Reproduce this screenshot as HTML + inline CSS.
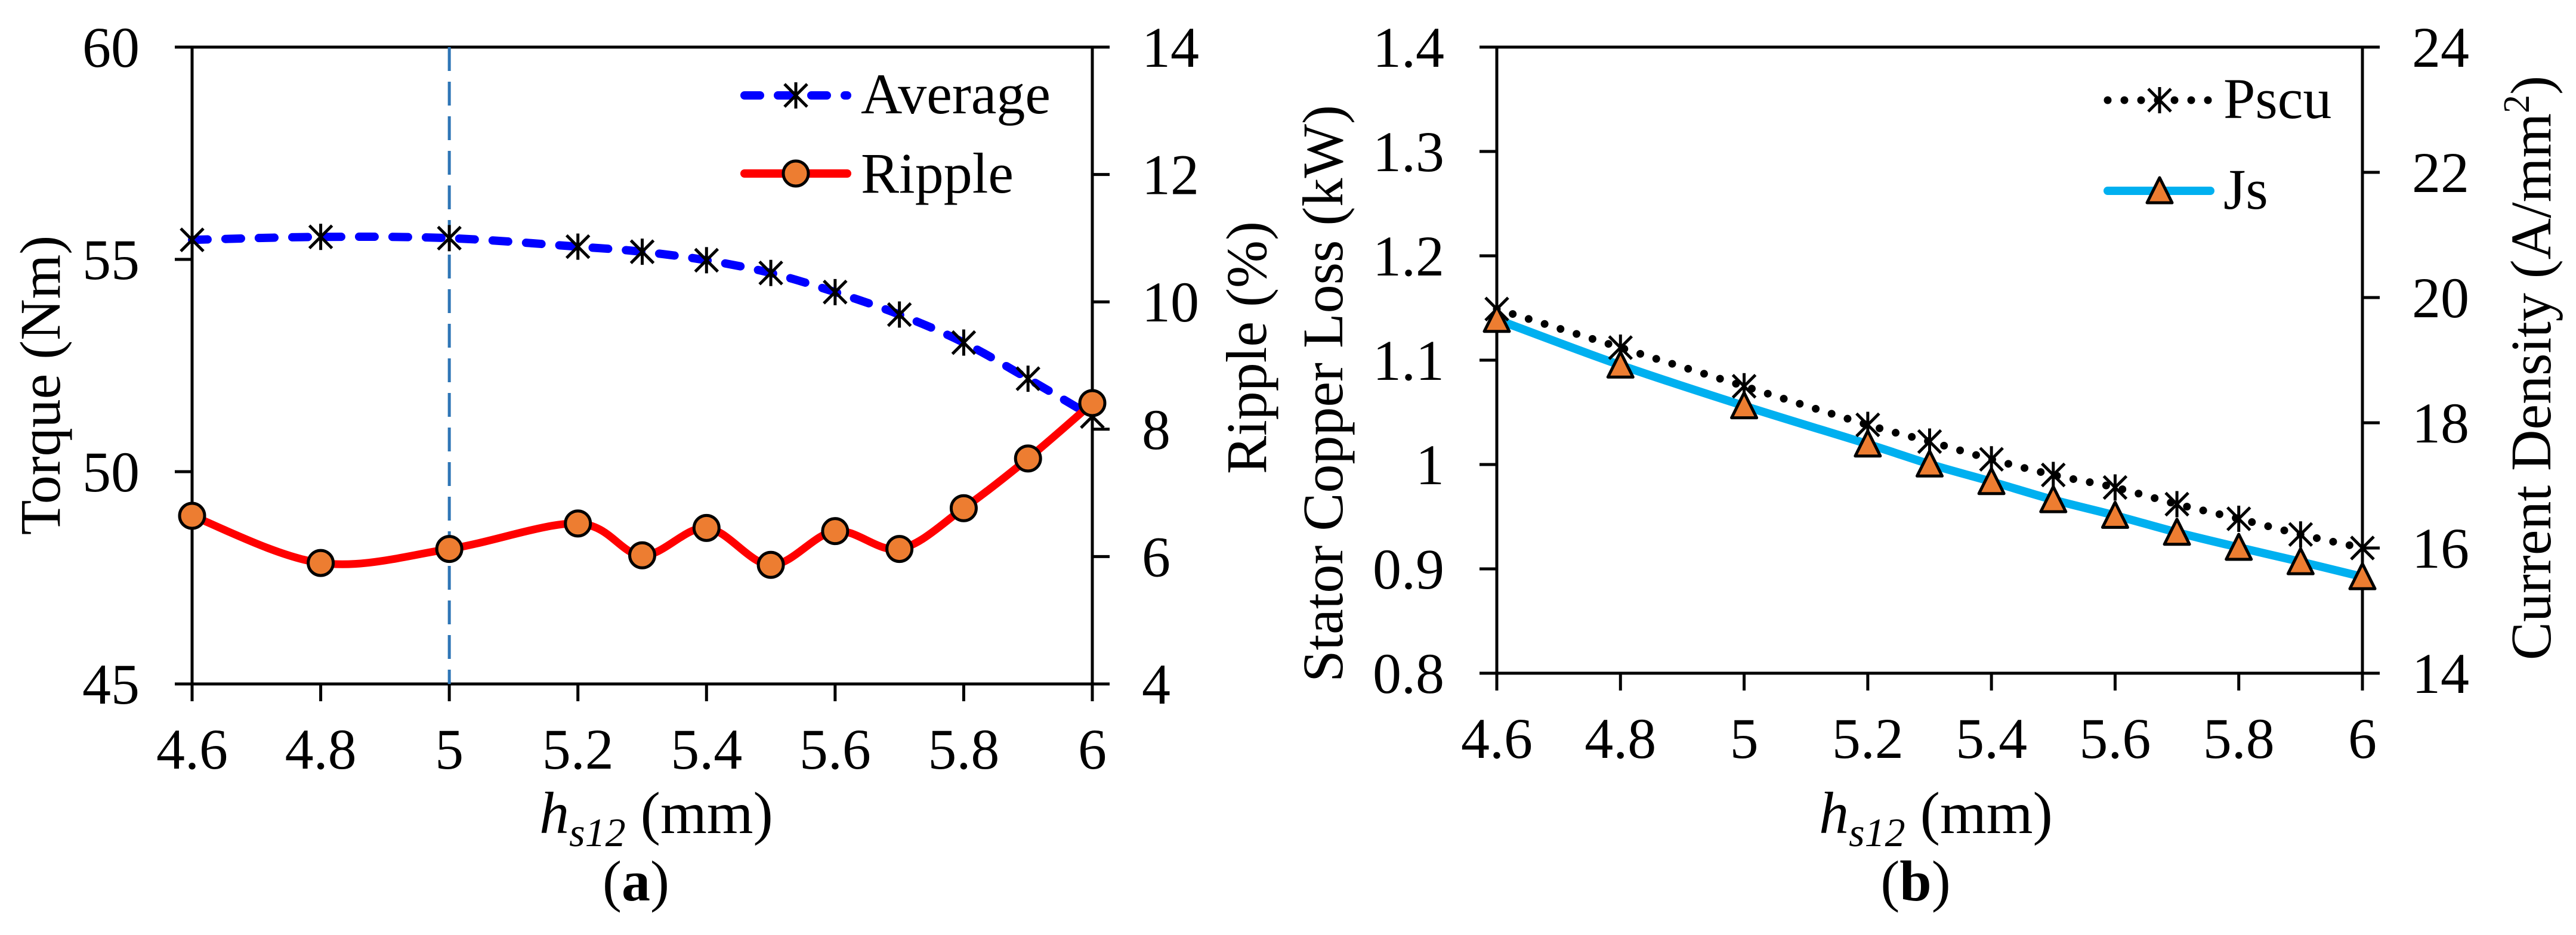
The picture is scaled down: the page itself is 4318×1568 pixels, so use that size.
<!DOCTYPE html>
<html><head><meta charset="utf-8"><style>
html,body{margin:0;padding:0;background:#fff}
svg{display:block;font-family:"Liberation Serif",serif}
svg text{font-family:"Liberation Serif",serif}
</style></head><body>
<svg id="fig" width="4318" height="1568" viewBox="0 0 4318 1568" xmlns="http://www.w3.org/2000/svg" font-family="Liberation Serif, serif"></svg>
<script>
const xVals = [4.6,4.8,5.0,5.2,5.3,5.4,5.5,5.6,5.7,5.8,5.9,6.0];
const xTicks = [4.6,4.8,5,5.2,5.4,5.6,5.8,6];
const avgTorque = [55.46,55.53,55.5,55.3,55.18,54.98,54.68,54.23,53.7,53.04,52.19,51.3];
const ripple = [6.64,5.9,6.12,6.52,6.02,6.45,5.87,6.40,6.12,6.76,7.54,8.41];
const pscu = [1.149,1.112,1.075,1.038,1.022,1.005,0.990,0.978,0.962,0.948,0.933,0.920];
const js = [19.65,18.92,18.27,17.66,17.34,17.06,16.77,16.52,16.25,16.01,15.78,15.54];
const torqueTicks = [45,50,55,60];
const rippleTicks = [4,6,8,10,12,14];
const lossTicks = [0.8,0.9,1,1.1,1.2,1.3,1.4];
const lossTickLabels = ["0.8","0.9","1","1.1","1.2","1.3","1.4"];
const jsTicks = [14,16,18,20,22,24];
const markerX = 5.0;

const NS="http://www.w3.org/2000/svg";
const FONT="Liberation Serif, serif";
const svg=document.getElementById('fig');
function el(tag,attrs,parent){const e=document.createElementNS(NS,tag);for(const k in attrs)e.setAttribute(k,attrs[k]);(parent||svg).appendChild(e);return e;}
function lin(d0,d1,r0,r1){return v=>r0+(v-d0)/(d1-d0)*(r1-r0);}
function smooth(pts){let d=`M${pts[0][0]},${pts[0][1]}`;for(let i=0;i<pts.length-1;i++){const p0=pts[i-1]||pts[i],p1=pts[i],p2=pts[i+1],p3=pts[i+2]||p2;const t=6;d+=` C${p1[0]+(p2[0]-p0[0])/t},${p1[1]+(p2[1]-p0[1])/t} ${p2[0]-(p3[0]-p1[0])/t},${p2[1]-(p3[1]-p1[1])/t} ${p2[0]},${p2[1]}`;}return d;}
function asterisk(g,x,y){const a=el('g',{stroke:'#000','stroke-width':5,fill:'none'},g);

el('line',{x1:x,y1:y-22,x2:x,y2:y+22},a);el('line',{x1:x-19,y1:y-19,x2:x+19,y2:y+19},a);el('line',{x1:x+19,y1:y-19,x2:x-19,y2:y+19},a);}
function circle(g,x,y){const c=el('circle',{cx:x,cy:y,r:21,fill:'#ed7d31',stroke:'#000','stroke-width':5},g);
}
function tri(g,x,y){const p=el('polygon',{points:`${x},${y-22} ${x+21},${y+20} ${x-21},${y+20}`,fill:'#ed7d31',stroke:'#000','stroke-width':5,'stroke-linejoin':'round'},g);
}
function text(g,x,y,s,attrs){const t=el('text',Object.assign({x:x,y:y,'font-size':96,fill:'#000','font-family':FONT},attrs||{}),g);t.textContent=s;return t;}

function frame(g,L,R,T,B,sx,yLeft,yRight,lt,lTickLbl,rt,name){
  const ax=el('g',{stroke:'#000','stroke-width':5,fill:'none'},g);
  
  el('rect',{x:L,y:T,width:R-L,height:B-T},ax);
  xTicks.forEach(v=>{el('line',{x1:sx(v),y1:B,x2:sx(v),y2:B+29},ax);});
  lt.forEach(v=>{el('line',{x1:L-29,y1:yLeft(v),x2:L,y2:yLeft(v)},ax);});
  rt.forEach(v=>{el('line',{x1:R,y1:yRight(v),x2:R+29,y2:yRight(v)},ax);});
  const xl=el('g',{},g);
  xTicks.forEach(v=>text(xl,sx(v),B+142,String(v),{'text-anchor':'middle'}));
  const yl=el('g',{},g);
  lt.forEach((v,i)=>text(yl,L-88,yLeft(v)+33,lTickLbl?lTickLbl[i]:String(v),{'text-anchor':'end'}));
  const yr=el('g',{},g);
  rt.forEach(v=>text(yr,R+83,yRight(v)+33,String(v),{'text-anchor':'start'}));
}
function xTitle(g,cx,y,lab){
  const t=el('text',{x:cx,y:y,'font-size':100,'text-anchor':'middle',fill:'#000','font-family':FONT},g);
  
  const h=el('tspan',{'font-style':'italic'},t);h.textContent='h';
  const s=el('tspan',{'font-style':'italic','font-size':68,dy:22},t);s.textContent='s12';
  const m=el('tspan',{dy:-22},t);m.textContent=' (mm)';
  const c=el('text',{x:cx-34,y:1510,'font-size':96,'text-anchor':'middle',fill:'#000','font-family':FONT},g);
  
  c.textContent='(';const b=el('tspan',{'font-weight':'bold'},c);b.textContent=lab;const e=el('tspan',{},c);e.textContent=')';
}
function yTitle(g,x,y,s,name){const t=text(g,0,0,s,{'text-anchor':'middle',transform:`translate(${x},${y}) rotate(-90)`});
return t;}

// Panel a
{
const g=el('g',{});
const L=322,R=1831,T=79,B=1147;
const sx=lin(4.6,6,L,R),sy=lin(45,60,B,T),sr=lin(4,14,B,T);
frame(g,L,R,T,B,sx,sy,sr,torqueTicks,null,rippleTicks,'panel-a');
const vl=el('line',{x1:sx(markerX),y1:T,x2:sx(markerX),y2:B,stroke:'#2e75b6','stroke-width':5,'stroke-dasharray':'40 18'},g);

const ap=avgTorque.map((v,i)=>[sx(xVals[i]),sy(v)]);
const a=el('path',{d:smooth(ap),fill:'none',stroke:'#0000ff','stroke-width':14,'stroke-linecap':'round','stroke-dasharray':'26 30'},g);

const rp=ripple.map((v,i)=>[sx(xVals[i]),sr(v)]);
const r=el('path',{d:smooth(rp),fill:'none',stroke:'#ff0000','stroke-width':13,'stroke-linecap':'round'},g);

ap.forEach(p=>asterisk(g,p[0],p[1]));
rp.forEach(p=>circle(g,p[0],p[1]));
yTitle(g,100,646,'Torque (Nm)','left-y-axis-title');
yTitle(g,2122,583,'Ripple (%)','right-y-axis-title');
xTitle(g,1100,1397,'a');
const lg=el('g',{},g);
const l1=el('line',{x1:1248,y1:160,x2:1420,y2:160,stroke:'#0000ff','stroke-width':14,'stroke-linecap':'round','stroke-dasharray':'26 30'},lg);

asterisk(lg,1334,160);
const t1=text(lg,1443,190,'Average');
const l2=el('line',{x1:1248,y1:291,x2:1420,y2:291,stroke:'#ff0000','stroke-width':14,'stroke-linecap':'round'},lg);

circle(lg,1334,291);
const t2=text(lg,1443,323,'Ripple');
}
// Panel b
{
const g=el('g',{});
const L=2509,R=3960,T=79,B=1129;
const sx=lin(4.6,6,L,R),sy=lin(0.8,1.4,B,T),sj=lin(14,24,B,T);
frame(g,L,R,T,B,sx,sy,sj,lossTicks,lossTickLabels,jsTicks,'panel-b');
const jp=js.map((v,i)=>[sx(xVals[i]),sj(v)]);
const jl=el('path',{d:smooth(jp),fill:'none',stroke:'#00b0f0','stroke-width':14,'stroke-linecap':'round'},g);

const pp=pscu.map((v,i)=>[sx(xVals[i]),sy(v)]);
const pl=el('path',{d:smooth(pp),fill:'none',stroke:'#000','stroke-width':13,'stroke-linecap':'round','stroke-dasharray':'0 28'},g);

pp.forEach(p=>asterisk(g,p[0],p[1]));
jp.forEach(p=>tri(g,p[0],p[1]));
yTitle(g,2250,660,'Stator Copper Loss (kW)','left-y-axis-title');
const t=yTitle(g,4275,617,'Current Density (A/mm','right-y-axis-title');
const sup=el('tspan',{'font-size':62,dy:-36},t);sup.textContent='2';
const cl=el('tspan',{dy:36},t);cl.textContent=')';
xTitle(g,3245,1397,'b');
const lg=el('g',{},g);
const l1=el('line',{x1:3533,y1:168,x2:3705,y2:168,stroke:'#000','stroke-width':13,'stroke-linecap':'round','stroke-dasharray':'0 28'},lg);

asterisk(lg,3620,168);
const t1=text(lg,3727,198,'Pscu');
const l2=el('line',{x1:3533,y1:320,x2:3705,y2:320,stroke:'#00b0f0','stroke-width':14,'stroke-linecap':'round'},lg);

tri(lg,3620,320);
const t2=text(lg,3727,350,'Js');
}
</script>
</body></html>
